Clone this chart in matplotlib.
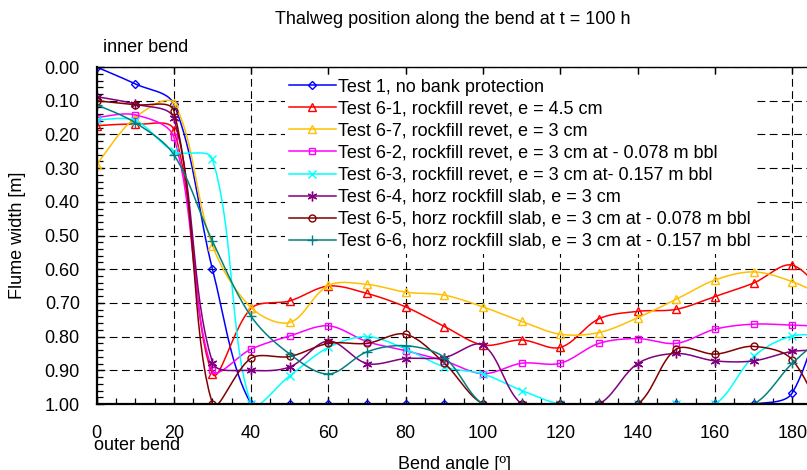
"""
Thalweg position along the bend at t = 100 h, all bank-protection tests.
Output: out.png
"""

import numpy as np
import matplotlib
matplotlib.use("Agg")
import matplotlib.pyplot as plt
from matplotlib.ticker import MultipleLocator, FormatStrFormatter

plt.rcParams["font.family"] = ["Liberation Sans", "DejaVu Sans"]
plt.rcParams["font.size"] = 13

# ── data (flume width in m, read at every 10 degrees) ──────────────────────────
angles = [0, 10, 20, 30, 40, 50, 60, 70, 80, 90, 100,
          110, 120, 130, 140, 150, 160, 170, 180, 190]

test_1  = [0.00, 0.05, 0.11, 0.60, 1.00, 1.00, 1.00, 1.00, 1.00, 1.00, 1.00,
           1.00, 1.00, 1.00, 1.00, 1.00, 1.00, 1.00, 0.967, 0.61]
test_61 = [0.174, 0.17, 0.186, 0.91, 0.716, 0.694, 0.65, 0.672, 0.712, 0.77, 0.825,
           0.81, 0.832, 0.747, 0.725, 0.719, 0.681, 0.641, 0.588, 0.70]
test_67 = [0.29, 0.15, 0.107, 0.53, 0.714, 0.758, 0.648, 0.645, 0.668, 0.677, 0.712,
           0.755, 0.793, 0.788, 0.744, 0.689, 0.632, 0.608, 0.637, 0.69]
test_62 = [0.15, 0.142, 0.208, 0.90, 0.837, 0.798, 0.768, 0.815, 0.842, 0.872, 0.91,
           0.879, 0.879, 0.82, 0.806, 0.82, 0.778, 0.763, 0.766, 0.77]
test_63 = [0.157, 0.159, 0.25, 0.273, 1.00, 0.916, 0.832, 0.80, 0.837, 0.89, 0.911,
           0.96, 1.00, 1.00, 1.00, 1.00, 1.00, 0.859, 0.798, 0.80]
test_64 = [0.088, 0.11, 0.152, 0.877, 0.90, 0.89, 0.813, 0.88, 0.865, 0.862, 0.825,
           1.00, 1.00, 1.00, 0.88, 0.85, 0.872, 0.872, 0.844, 0.84]
test_65 = [0.10, 0.112, 0.13, 1.00, 0.864, 0.859, 0.82, 0.82, 0.793, 0.879, 1.00,
           1.00, 1.00, 1.00, 1.00, 0.837, 0.852, 0.829, 0.869, 1.10]
test_66 = [0.112, 0.165, 0.26, 0.517, 0.74, 0.852, 0.911, 0.845, 0.827, 0.862, 1.00,
           1.00, 1.00, 1.00, 1.00, 1.00, 1.00, 1.00, 0.879, 0.78]

labels = [
    "Test 1, no bank protection",
    "Test 6-1, rockfill revet, e = 4.5 cm",
    "Test 6-7, rockfill revet, e = 3 cm",
    "Test 6-2, rockfill revet, e = 3 cm at - 0.078 m bbl",
    "Test 6-3, rockfill revet, e = 3 cm at- 0.157 m bbl",
    "Test 6-4, horz rockfill slab, e = 3 cm",
    "Test 6-5, horz rockfill slab, e = 3 cm at - 0.078 m bbl",
    "Test 6-6, horz rockfill slab, e = 3 cm at - 0.157 m bbl",
]
series = [test_1, test_61, test_67, test_62, test_63, test_64, test_65, test_66]

colors  = ["#0000FF", "#FF0000", "#FFC000", "#FF00FF",
           "#00FFFF", "#800080", "#800000", "#008080"]
markers = ["D", "^", "^", "s", "x", (6, 2, 0), "o", "+"]
msizes  = [4.5, 6, 6, 5, 6, 7, 5, 7]
hollow  = [True, True, True, True, False, False, True, False]

FIG_W, FIG_H = 8.07, 4.70
AX_POS = [0.1196, 0.1404, 0.958, 0.717]
XLIM, YLIM = (0, 200), (1.0, 0.0)


def smooth(x, y, n=16):
    """Excel-like smoothed line: Bezier segments built in screen space,
    tangents scaled by neighbouring segment lengths."""
    sx = AX_POS[2] * FIG_W * 100 / (XLIM[1] - XLIM[0])
    sy = AX_POS[3] * FIG_H * 100 / abs(YLIM[1] - YLIM[0])
    P = np.column_stack([np.asarray(x, float) * sx, np.asarray(y, float) * sy])
    d = np.linalg.norm(np.diff(P, axis=0), axis=1) + 1e-9
    t = np.linspace(0, 1, n, endpoint=False)[:, None]
    out = []
    for i in range(len(P) - 1):
        p0, p3 = P[i], P[i + 1]
        if i == 0:
            c1 = p0 + (p3 - p0) / 6
        else:
            c1 = p0 + (P[i + 1] - P[i - 1]) * d[i] / (d[i - 1] + d[i]) / 3
        if i == len(P) - 2:
            c2 = p3 - (p3 - p0) / 6
        else:
            c2 = p3 - (P[i + 2] - P[i]) * d[i] / (d[i] + d[i + 1]) / 3
        seg = ((1 - t) ** 3) * p0 + 3 * ((1 - t) ** 2) * t * c1 \
            + 3 * (1 - t) * t ** 2 * c2 + t ** 3 * p3
        out.append(seg)
    out.append(P[-1:])
    pts = np.vstack(out)
    return pts[:, 0] / sx, pts[:, 1] / sy, n


# ── plot ───────────────────────────────────────────────────────────────────────
fig = plt.figure(figsize=(FIG_W, FIG_H), dpi=100)
# axes run past the right edge of the picture, as in the cropped original
ax = fig.add_axes(AX_POS)

for vals, lab, c, mk, ms, ho in zip(series, labels, colors, markers, msizes, hollow):
    xs, ys, n = smooth(angles, vals)
    ax.plot(xs, ys, color=c, lw=1.1, marker=mk, markevery=slice(0, None, n),
            markersize=ms, markerfacecolor="none" if ho else c,
            markeredgecolor=c, markeredgewidth=1.0, label=lab)

ax.set_xlim(*XLIM)
ax.set_ylim(*YLIM)
ax.xaxis.set_major_locator(MultipleLocator(20))
ax.xaxis.set_minor_locator(MultipleLocator(5))
ax.yaxis.set_major_locator(MultipleLocator(0.1))
ax.yaxis.set_minor_locator(MultipleLocator(0.02))
ax.yaxis.set_major_formatter(FormatStrFormatter("%.2f"))

ax.grid(True, which="major", color="black", linestyle=(0, (7, 4)), linewidth=0.8)
ax.set_axisbelow(True)

ax.tick_params(which="both", direction="in", top=True, right=True, colors="black")
ax.tick_params(which="major", length=5, width=1.0)
ax.tick_params(which="minor", length=4, width=0.9)
ax.tick_params(axis="x", which="minor", top=False)
ax.tick_params(axis="y", pad=12)
ax.tick_params(axis="x", pad=15)

ax.spines["left"].set_linewidth(1.6)
ax.spines["bottom"].set_linewidth(1.6)
ax.spines["top"].set_linewidth(1.0)

leg = ax.legend(loc="upper left", bbox_to_anchor=(285 / 807, 1 - 75 / 470),
                bbox_transform=fig.transFigure, fontsize=13, frameon=True,
                fancybox=False, edgecolor="none", facecolor="white", framealpha=1,
                handlelength=2.6, handletextpad=0.15, labelspacing=0.28,
                borderpad=0.2, borderaxespad=0, numpoints=1)

fig.text(453 / 807, 1 - 20 / 470, "Thalweg position along the bend at t = 100 h",
         ha="center", va="center", fontsize=13)
fig.text(103 / 807, 1 - 48 / 470, "inner bend", ha="left", va="center", fontsize=13)
fig.text(94 / 807, 1 - 446 / 470, "outer bend", ha="left", va="center", fontsize=13)
fig.text(455 / 807, 1 - 456 / 470, "Bend angle [º]", ha="center", va="top", fontsize=13)
fig.text(18 / 807, 1 - 235.5 / 470, "Flume width [m]", rotation=90,
         ha="center", va="center", fontsize=13)

plt.savefig("out.png", dpi=100)
